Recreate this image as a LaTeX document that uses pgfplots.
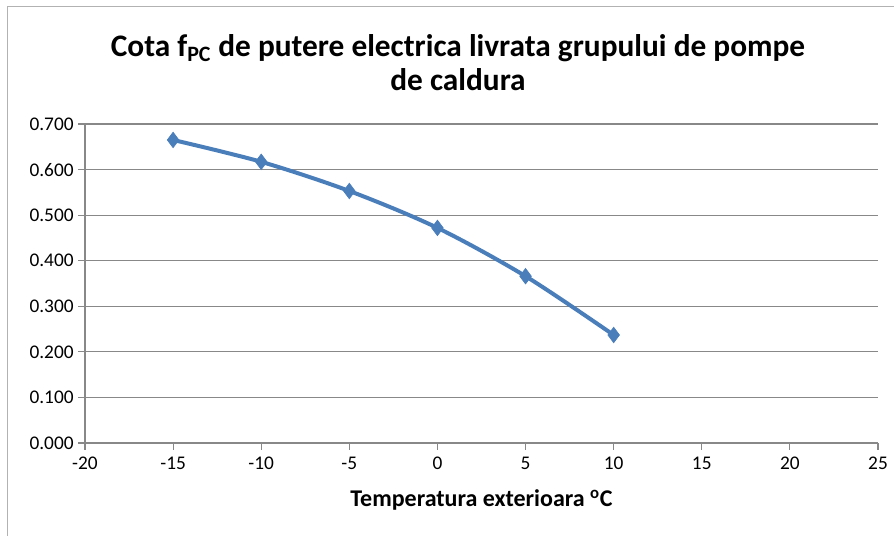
\documentclass[border=0pt]{standalone}
\usepackage{pgfplots}
\pgfplotsset{compat=1.18}
\usepackage{fontspec}
\setmainfont{Carlito}
\definecolor{serie}{HTML}{4A7EBB}
\definecolor{gridc}{HTML}{888888}
\begin{document}
\begin{tikzpicture}
\useasboundingbox (0pt,0pt) rectangle (670.5pt,402pt);
\draw[gray!60, line width=0.75pt] (5.25pt,0pt) -- (5.25pt,396.75pt) -- (670.5pt,396.75pt);
\node[font=\bfseries\fontsize{23.5}{25}\selectfont, align=center] at (343.5pt,355pt)
  {Cota f\textsubscript{PC} de putere electrica livrata grupului de pompe\\de caldura};
\begin{axis}[
  at={(63.75pt,69.75pt)}, anchor=south west,
  scale only axis, width=594.75pt, height=239.25pt,
  xmin=-20, xmax=25, ymin=0, ymax=0.7,
  xtick={-20,-15,...,25}, ytick={0,0.1,...,0.7},
  axis x line*=bottom, axis y line*=left,
  axis line style={gridc, line width=0.9pt, -},
  ymajorgrids, major grid style={gridc, line width=0.8pt},
  tick style={gridc, line width=0.9pt},
  tick align=outside, major tick length=5pt,
  /pgf/number format/assume math mode=true,
  yticklabel style={/pgf/number format/.cd, fixed, fixed zerofill, precision=3},
  ticklabel style={font=\fontsize{14.5}{16}\selectfont},
  xticklabel style={yshift=-2pt},
  xlabel={\bfseries Temperatura exterioara \textsuperscript{o}C},
  xlabel style={font=\fontsize{18}{20}\selectfont, yshift=-8pt},
  clip=false,
]
\addplot[serie, line width=3pt, smooth, tension=0.5, mark=diamond*, mark size=5.8pt, mark options={solid, line width=0.5pt}]
  coordinates {(-15,0.665) (-10,0.617) (-5,0.553) (0,0.472) (5,0.366) (10,0.237)};
\end{axis}
\end{tikzpicture}
\end{document}
